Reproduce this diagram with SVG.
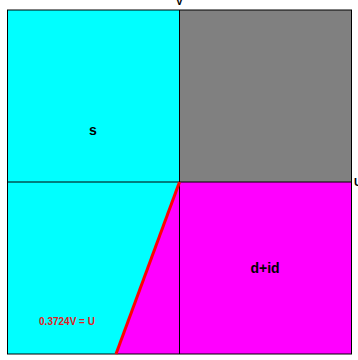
<svg xmlns="http://www.w3.org/2000/svg" width="358" height="360" viewBox="0 0 358 360">
<style>
.lbl{font-family:"Liberation Sans",Arial,sans-serif;font-weight:bold;fill:#000;text-anchor:middle}
.ln{stroke:#000;stroke-width:1;fill:none}
</style>
<rect width="358" height="360" fill="#fff"/>
<g id="region-s"><rect x="7.5" y="10" width="172" height="172" fill="#00ffff"/>
<text class="lbl" x="93" y="135" font-size="14">s</text></g>
<g id="region-gray"><rect x="179.5" y="10" width="172" height="172" fill="#808080"/></g>
<g id="region-cyan-low"><polygon points="7.5,182 179.5,182 116,354 7.5,354" fill="#00ffff"/></g>
<g id="region-did"><polygon points="179.5,182 351.5,182 351.5,354 116,354" fill="#ff00ff"/>
<text class="lbl" x="265" y="273" font-size="14">d+id</text></g>
<g id="connectors">
<line class="ln" x1="179.5" y1="10" x2="179.5" y2="354"/>
<line class="ln" x1="7.5" y1="182" x2="351.5" y2="182"/>
<rect class="ln" x="7.5" y="10" width="344" height="344"/>
<line x1="179.5" y1="182" x2="116" y2="354" stroke="#ff0000" stroke-width="3"/>
</g>
<g id="red-label"><text x="67" y="325" font-size="10" font-family="Liberation Sans,Arial,sans-serif" font-weight="bold" fill="#e02020" text-anchor="middle">0.3724V = U</text></g>
<g id="axis-labels">
<text class="lbl" x="179.5" y="5" font-size="11">V</text>
<text class="lbl" x="358" y="186" font-size="11" text-anchor="start">U</text>
</g>
</svg>
